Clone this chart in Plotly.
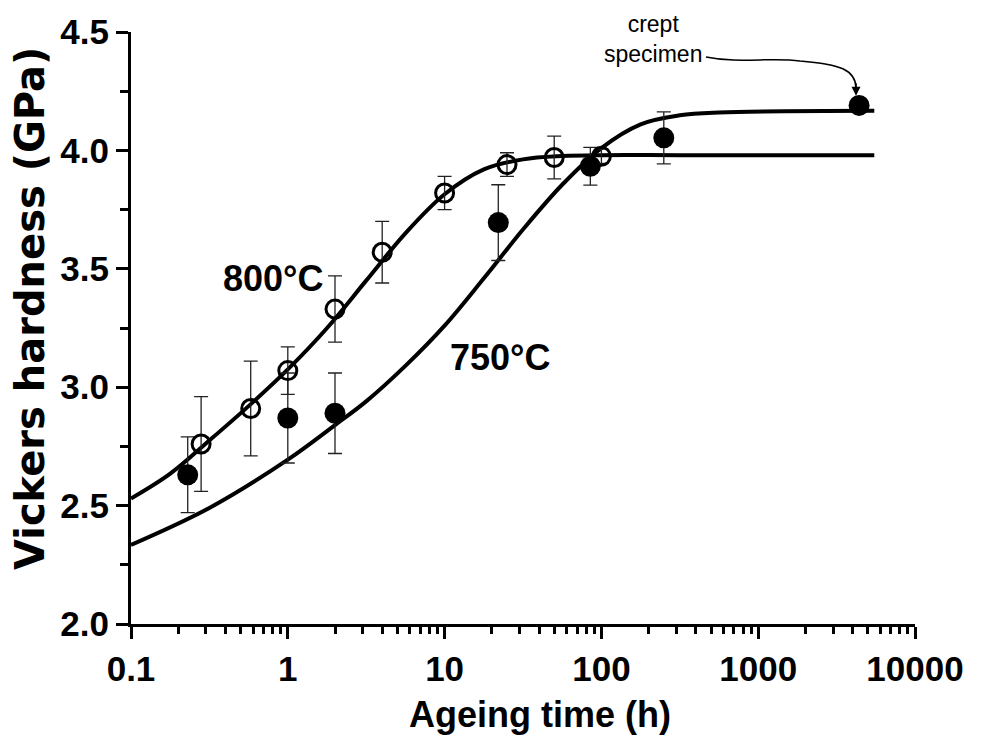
import plotly.graph_objects as go

# ---- data ----
open_x = [0.28, 0.58, 1, 2, 4, 10, 25, 50, 100]
open_y = [2.76, 2.91, 3.07, 3.33, 3.57, 3.82, 3.94, 3.97, 3.975]
open_err = [0.20, 0.20, 0.10, 0.14, 0.13, 0.07, 0.05, 0.09, 0.03]

filled_x = [0.23, 1, 2, 22, 85, 250]
filled_y = [2.63, 2.87, 2.89, 3.695, 3.933, 4.053]
filled_err = [0.16, 0.19, 0.17, 0.16, 0.08, 0.11]

crept_x = [4400]
crept_y = [4.19]

fit800_x = [0.1, 0.178, 0.316, 0.562, 1, 1.78, 3.16, 5.62, 10, 17.8, 31.6, 56.2, 100, 316, 5500]
fit800_y = [2.53, 2.635, 2.775, 2.92, 3.075, 3.25, 3.45, 3.65, 3.815, 3.92, 3.962, 3.976, 3.98, 3.98, 3.98]

fit750_x = [0.1, 0.316, 1, 2, 3.16, 5.62, 10, 17.8, 31.6, 56.2, 100, 178, 316, 562, 5500]
fit750_y = [2.334, 2.49, 2.694, 2.84, 2.94, 3.09, 3.26, 3.46, 3.666, 3.855, 4.01, 4.11, 4.148, 4.16, 4.167]

x_tickvals = [0.1, 1, 10, 100, 1000, 10000]
x_ticktext = ["0.1", "1", "10", "100", "1000", "10000"]
y_tickvals = [2.0, 2.5, 3.0, 3.5, 4.0, 4.5]
y_ticktext = ["2.0", "2.5", "3.0", "3.5", "4.0", "4.5"]

FONT = "Liberation Sans, Arial, Helvetica, sans-serif"

fig = go.Figure()

fig.add_trace(go.Scatter(x=fit800_x, y=fit800_y, mode="lines",
                         line=dict(color="black", width=4, shape="spline", smoothing=1.0),
                         hoverinfo="skip", showlegend=False))
fig.add_trace(go.Scatter(x=fit750_x, y=fit750_y, mode="lines",
                         line=dict(color="black", width=4, shape="spline", smoothing=1.0),
                         hoverinfo="skip", showlegend=False))

fig.add_trace(go.Scatter(x=filled_x, y=filled_y, mode="markers",
                         marker=dict(symbol="circle", size=21, color="black"),
                         error_y=dict(type="data", array=filled_err, color="#222222",
                                      thickness=1.3, width=7),
                         showlegend=False))
fig.add_trace(go.Scatter(x=open_x, y=open_y, mode="markers",
                         marker=dict(symbol="circle-open", size=18, color="black",
                                     line=dict(width=3, color="black")),
                         error_y=dict(type="data", array=open_err, color="#222222",
                                      thickness=1.3, width=7),
                         showlegend=False))
fig.add_trace(go.Scatter(x=crept_x, y=crept_y, mode="markers",
                         marker=dict(symbol="circle", size=21, color="black"),
                         showlegend=False))

L, R, T, B = 131, 66, 30, 114
W, H = 981, 738
pw, ph = W - L - R, H - T - B

def px(xp):
    return (xp - L) / pw

def py(yp):
    return (H - B - yp) / ph

# curved arrow
path = "M {:.4f} {:.4f} C {:.4f} {:.4f} {:.4f} {:.4f} {:.4f} {:.4f} C {:.4f} {:.4f} {:.4f} {:.4f} {:.4f} {:.4f}".format(
    px(706), py(55),
    px(740), py(62), px(770), py(55), px(800), py(59),
    px(840), py(62), px(857), py(68), px(856), py(88))
fig.add_shape(type="path", path=path, xref="paper", yref="paper",
              line=dict(color="black", width=1.5))

annotations = [
    dict(x=px(856), y=py(94), xref="paper", yref="paper", text="", showarrow=True,
         ax=0, ay=-14, arrowhead=2, arrowsize=1.2, arrowwidth=1.5, arrowcolor="black", standoff=0),
    dict(x=px(653), y=py(37), xref="paper", yref="paper", text="crept<br>specimen",
         showarrow=False, font=dict(family=FONT, size=23, color="black"), align="center",
         xanchor="center", yanchor="middle"),
    dict(x=px(273), y=py(277), xref="paper", yref="paper", text="800°C", showarrow=False,
         font=dict(family=FONT, size=36, color="black", weight="bold"), xanchor="center", yanchor="middle"),
    dict(x=px(500), y=py(357), xref="paper", yref="paper", text="750°C", showarrow=False,
         font=dict(family=FONT, size=36, color="black", weight="bold"), xanchor="center", yanchor="middle"),
    dict(x=px(30), y=py(308), xref="paper", yref="paper", text="Vickers hardness (GPa)", showarrow=False,
         textangle=-90, font=dict(family="DejaVu Sans, sans-serif", size=40, color="black", weight="bold"),
         xanchor="center", yanchor="middle"),
    dict(x=px(540), y=py(715), xref="paper", yref="paper", text="Ageing time (h)", showarrow=False,
         font=dict(family=FONT, size=36, color="black", weight="bold"), xanchor="center", yanchor="middle"),
]

fig.update_layout(
    width=W, height=H,
    margin=dict(l=L, r=R, t=T, b=B),
    plot_bgcolor="white", paper_bgcolor="white",
    annotations=annotations,
    font=dict(family=FONT, color="black"),
)

fig.update_xaxes(type="log", range=[-1, 4], showgrid=False, zeroline=False,
                 showline=True, linecolor="black", linewidth=3,
                 ticks="outside", ticklen=12, tickwidth=3, tickcolor="black",
                 tickmode="array", tickvals=x_tickvals, ticktext=x_ticktext,
                 tickfont=dict(family=FONT, size=35, color="black", weight="bold"),
                 minor=dict(ticks="outside", ticklen=7, tickwidth=2.5, tickcolor="black", dtick="D1"))
fig.update_yaxes(range=[2.0, 4.5], showgrid=False, zeroline=False,
                 showline=True, linecolor="black", linewidth=3,
                 ticks="outside", ticklen=12, tickwidth=3, tickcolor="black",
                 tickmode="array", tickvals=y_tickvals, ticktext=y_ticktext,
                 tickfont=dict(family=FONT, size=35, color="black", weight="bold"),
                 minor=dict(ticks="outside", ticklen=8, tickwidth=3, tickcolor="black",
                            tickmode="array", tickvals=[2.25, 2.75, 3.25, 3.75, 4.25]))

fig.write_html("out.html")
